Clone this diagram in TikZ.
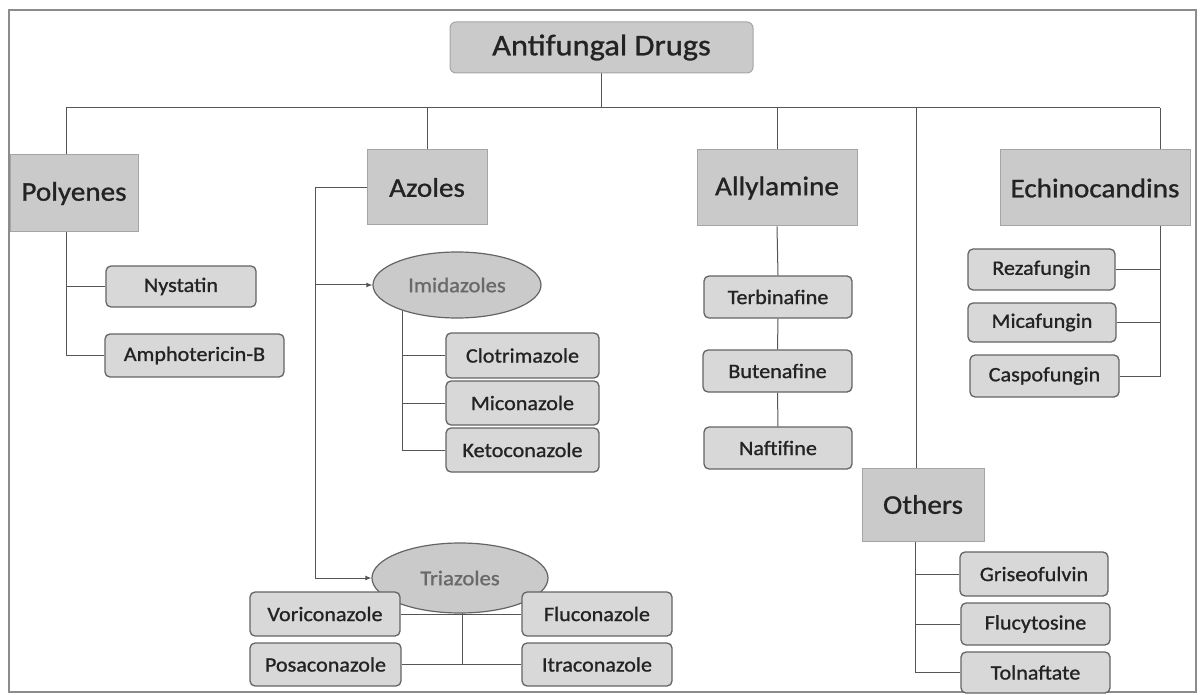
\documentclass[tikz,border=0pt]{standalone}
\usepackage{fontspec}
\setmainfont{Carlito}[FakeStretch=1.08, FakeBold=1.0]
\usetikzlibrary{shapes.geometric,arrows.meta,backgrounds}
\definecolor{headfill}{RGB}{202,202,202}
\definecolor{headdraw}{RGB}{165,165,165}
\definecolor{subfill}{RGB}{216,216,216}
\definecolor{subdraw}{RGB}{100,100,100}
\definecolor{txt}{RGB}{35,35,35}
\definecolor{ovaltxt}{RGB}{105,105,105}
\definecolor{conn}{RGB}{85,85,85}
\definecolor{framec}{RGB}{140,140,140}
\tikzset{
  headbox/.style={rectangle, fill=headfill, draw=headdraw, line width=1pt, inner sep=0pt, text=txt, font=\fontsize{27}{30}\selectfont},
  titlebox/.style={rectangle, rounded corners=6pt, fill=headfill, draw=headdraw, line width=1pt, inner sep=0pt, text=txt, font=\fontsize{30}{34}\selectfont},
  subbox/.style={rectangle, rounded corners=5pt, fill=subfill, draw=subdraw, line width=1.3pt, inner sep=0pt, text=txt, font=\fontsize{20.5}{24}\selectfont},
  oval/.style={ellipse, fill=headfill, draw=subdraw, line width=1.2pt, inner sep=0pt, text=ovaltxt, font=\fontsize{21}{24}\selectfont},
  link/.style={draw=conn, line width=1pt},
  arr/.style={link, -{Latex[length=6pt,width=5pt]}}
}
\begin{document}
\begin{tikzpicture}[x=1pt,y=-1pt]
\useasboundingbox (0,0) rectangle (1200,695);
\draw[framec, line width=1.2pt] (9,10) rectangle (1196,692);
% headings
\node[titlebox, minimum width=303pt, minimum height=51pt] (title) at (601.5,47.5) {Antifungal Drugs};
\node[headbox, minimum width=128pt, minimum height=77pt] (poly) at (74,193.5) {Polyenes};
\node[headbox, minimum width=120pt, minimum height=75pt] (azoles) at (427,187.5) {Azoles};
\node[headbox, minimum width=160pt, minimum height=76pt] (allyl) at (777,188) {Allylamine};
\node[headbox, minimum width=190pt, minimum height=76pt] (echino) at (1095,188) {Echinocandins};
\node[headbox, minimum width=122pt, minimum height=73pt] (others) at (923,504.5) {Others};
% polyenes
\node[subbox, minimum width=150pt, minimum height=41pt] (nyst) at (181,286.5) {Nystatin};
\node[subbox, minimum width=179pt, minimum height=43pt] (amph) at (194.5,355.5) {Amphotericin-B};
% azoles
\node[oval, minimum width=168pt, minimum height=66pt] (imid) at (457,285) {Imidazoles};
\node[subbox, minimum width=153pt, minimum height=45pt] (clot) at (522.5,355.5) {Clotrimazole};
\node[subbox, minimum width=153pt, minimum height=44pt] (mico) at (522.5,403) {Miconazole};
\node[subbox, minimum width=153pt, minimum height=44pt] (keto) at (522.5,450) {Ketoconazole};
\node[oval, minimum width=176pt, minimum height=70pt] (tri) at (460,578) {Triazoles};
\node[subbox, minimum width=150pt, minimum height=44pt] (vori) at (325,614) {Voriconazole};
\node[subbox, minimum width=151pt, minimum height=43pt] (posa) at (325.5,664.5) {Posaconazole};
\node[subbox, minimum width=150pt, minimum height=44pt] (fluc) at (597,614) {Fluconazole};
\node[subbox, minimum width=150pt, minimum height=43pt] (itra) at (597,664.5) {Itraconazole};
% allylamine
\node[subbox, minimum width=148pt, minimum height=42pt] (terb) at (778,297) {Terbinafine};
\node[subbox, minimum width=149pt, minimum height=42pt] (bute) at (777.5,371) {Butenafine};
\node[subbox, minimum width=148pt, minimum height=42pt] (naft) at (778,448) {Naftifine};
% echinocandins
\node[subbox, minimum width=147pt, minimum height=41pt] (reza) at (1041.5,269.5) {Rezafungin};
\node[subbox, minimum width=148pt, minimum height=39pt] (mica) at (1042,322.5) {Micafungin};
\node[subbox, minimum width=149pt, minimum height=42pt] (caspo) at (1044.5,376) {Caspofungin};
% others
\node[subbox, minimum width=148pt, minimum height=44pt] (gris) at (1034,574) {Griseofulvin};
\node[subbox, minimum width=149pt, minimum height=42pt] (flucy) at (1035.5,624) {Flucytosine};
\node[subbox, minimum width=149pt, minimum height=41pt] (toln) at (1035.5,672.5) {Tolnaftate};
% coordinates
\coordinate (hL) at (66,108);
\coordinate (hR) at (1160,108);
\coordinate (hO) at (916,108);
\coordinate (azx) at (315,0);
\coordinate (imx) at (402,0);
\coordinate (trx) at (462,0);
\coordinate (otx) at (915,0);
\begin{scope}[on background layer]
\draw[link] (title.south) -- (title.south |- hL);
\draw[link] (hL) -- (hR);
\draw[link] (hL) -- (hL |- poly.north);
\draw[link] (azoles.north |- hL) -- (azoles.north);
\draw[link] (allyl.north |- hL) -- (allyl.north);
\draw[link] (hO) -- (hO |- others.north);
\draw[link] (hR) -- (hR |- echino.north);
% polyenes
\draw[link] (hL |- poly.south) -- (hL |- amph.west) -- (amph.west);
\draw[link] (hL |- nyst.west) -- (nyst.west);
% azoles
\draw[link] (azoles.west) -- (azx |- azoles.west) -- (azx |- tri.west);
\draw[arr] (azx |- imid.west) -- (imid.west);
\draw[arr] (azx |- tri.west) -- (tri.west);
\draw[link] (imx |- imid.center) -- (imx |- keto.west) -- (keto.west);
\draw[link] (imx |- clot.west) -- (clot.west);
\draw[link] (imx |- mico.west) -- (mico.west);
\draw[link] (trx |- tri.center) -- (trx |- posa.east);
\draw[link] (vori.east) -- (fluc.west);
\draw[link] (posa.east) -- (itra.west);
% allylamine
\draw[link] (allyl.south) -- (terb.north);
\draw[link] (terb.south) -- (bute.north);
\draw[link] (bute.south) -- (naft.north);
% echinocandins
\draw[link] (hR |- echino.south) -- (hR |- caspo.east) -- (caspo.east);
\draw[link] (hR |- reza.east) -- (reza.east);
\draw[link] (hR |- mica.east) -- (mica.east);
% others
\draw[link] (otx |- others.south) -- (otx |- toln.west) -- (toln.west);
\draw[link] (otx |- gris.west) -- (gris.west);
\draw[link] (otx |- flucy.west) -- (flucy.west);
\end{scope}
\end{tikzpicture}
\end{document}
